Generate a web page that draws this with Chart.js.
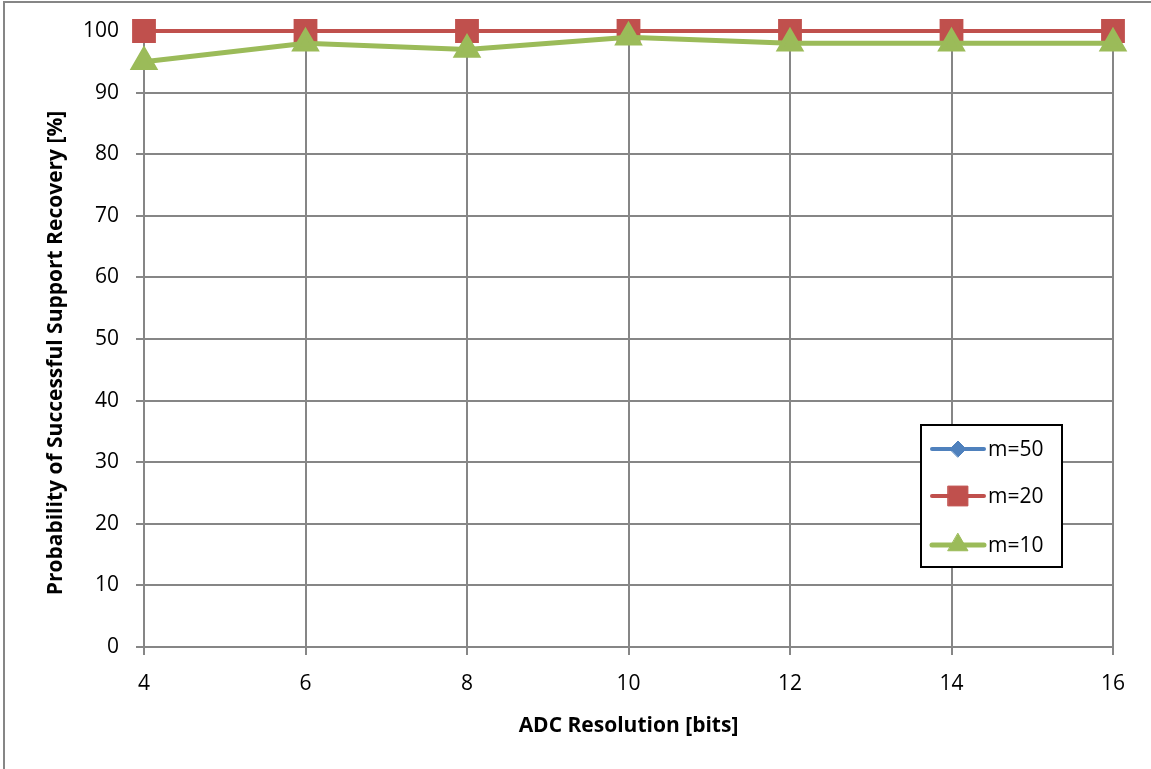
<!DOCTYPE html>
<html>
<head>
<meta charset="utf-8">
<script src="https://cdn.jsdelivr.net/npm/chart.js@4/dist/chart.umd.min.js"></script>
<style>
  html, body { margin: 0; padding: 0; background: #fff; }
  #wrap { width: 1151px; height: 769px; position: relative; }
</style>
</head>
<body>
<div id="wrap"><canvas id="chart" width="1151" height="769"></canvas></div>
<script>
// ADC resolution in bits (x axis)
const bits = [4, 6, 8, 10, 12, 14, 16];
// probability of successful support recovery, per measurement count
const m50 = [100, 100, 100, 100, 100, 100, 100];
const m20 = [100, 100, 100, 100, 100, 100, 100];
const m10 = [95, 98, 97, 99, 98, 98, 98];
const seriesLabels = ['m=50', 'm=20', 'm=10'];
const yTicks = [0, 10, 20, 30, 40, 50, 60, 70, 80, 90, 100];
const yTitle = 'Probability of Successful Support Recovery [%]';

const FONT = "'Open Sans', 'Noto Sans', sans-serif";
const GRID = '#868686';

function toPoints(values) {
    return bits.map((b, i) => ({ x: b, y: values[i] }));
}

// frame around the whole chart (only left & top are visible in the picture)
// plus the y axis title, which sits a bit below the plot centre
const framePlugin = {
    id: 'frame',
    beforeDraw(chart) {
        const ctx = chart.ctx;
        ctx.save();
        ctx.strokeStyle = GRID;
        ctx.lineWidth = 2;
        ctx.beginPath();
        ctx.moveTo(4, 769);
        ctx.lineTo(4, 2);
        ctx.lineTo(1151, 2);
        ctx.stroke();

        ctx.translate(56, 353);
        ctx.rotate(-Math.PI / 2);
        ctx.fillStyle = '#000';
        ctx.font = 'bold 21px ' + FONT;
        ctx.textAlign = 'center';
        ctx.textBaseline = 'middle';
        ctx.fillText(yTitle, 0, 0);
        ctx.restore();
    }
};

// boxed legend sitting inside the plot area
const boxLegend = {
    id: 'boxLegend',
    afterDraw(chart) {
        const ctx = chart.ctx;
        const x0 = 921, y0 = 425, w = 141, h = 142;
        ctx.save();
        ctx.fillStyle = '#fff';
        ctx.fillRect(x0, y0, w, h);
        ctx.strokeStyle = '#000';
        ctx.lineWidth = 2;
        ctx.strokeRect(x0, y0, w, h);
        const rows = [449, 496, 545];
        chart.data.datasets.forEach((ds, i) => {
            const y = rows[i];
            ctx.strokeStyle = ds.borderColor;
            ctx.lineWidth = ds.borderWidth;
            ctx.lineCap = 'round';
            ctx.beginPath();
            ctx.moveTo(932, y);
            ctx.lineTo(984, y);
            ctx.stroke();
            ctx.fillStyle = ds.backgroundColor;
            ctx.strokeStyle = ds.backgroundColor;
            ctx.lineWidth = 1;
            Chart.helpers.drawPoint(ctx, {
                pointStyle: ds.pointStyle,
                radius: ds.pointRadius,
                borderWidth: 1,
                rotation: 0
            }, 958, y);
            ctx.fillStyle = '#000';
            ctx.font = '21px ' + FONT;
            ctx.textBaseline = 'middle';
            ctx.textAlign = 'left';
            ctx.fillText(ds.label, 988, y + 1);
        });
        ctx.restore();
    }
};

new Chart(document.getElementById('chart'), {
    type: 'line',
    data: {
        datasets: [
            {
                label: seriesLabels[0], data: toPoints(m50), order: 3, clip: false,
                borderColor: '#4F81BD', backgroundColor: '#4F81BD', borderWidth: 4,
                pointStyle: 'rectRot', pointRadius: 8, pointHoverRadius: 8
            },
            {
                label: seriesLabels[1], data: toPoints(m20), order: 2, clip: false,
                borderColor: '#C0504D', backgroundColor: '#C0504D', borderWidth: 4,
                pointStyle: 'rect', pointRadius: 14, pointHoverRadius: 14
            },
            {
                label: seriesLabels[2], data: toPoints(m10), order: 1, clip: false,
                borderColor: '#9BBB59', backgroundColor: '#9BBB59', borderWidth: 5,
                pointStyle: 'triangle', pointRadius: 11.5, pointHoverRadius: 11.5
            }
        ]
    },
    options: {
        responsive: false,
        animation: false,
        layout: { padding: { left: 38, top: 31, right: 38, bottom: 30 } },
        plugins: {
            legend: { display: false },
            tooltip: { enabled: false }
        },
        scales: {
            x: {
                type: 'linear',
                min: 4, max: 16,
                afterBuildTicks(scale) {
                    scale.ticks = bits.map(v => ({ value: v }));
                },
                afterFit(scale) { scale.height = 92; },
                grid: { color: GRID, lineWidth: 2, tickLength: 8, drawTicks: true },
                border: { color: GRID, width: 2 },
                ticks: {
                    color: '#000', padding: 16,
                    font: { family: FONT, size: 21 }
                },
                title: {
                    display: true, text: 'ADC Resolution [bits]', color: '#000',
                    font: { family: FONT, size: 21, weight: 'bold' },
                    padding: { top: 4, bottom: 0 }
                }
            },
            y: {
                min: 0, max: 100,
                afterBuildTicks(scale) {
                    scale.ticks = yTicks.map(v => ({ value: v }));
                },
                afterFit(scale) { scale.width = 106; },
                grid: { color: GRID, lineWidth: 2, tickLength: 8 },
                border: { color: GRID, width: 2 },
                ticks: {
                    color: '#000', padding: 17,
                    font: { family: FONT, size: 21 }
                },
                title: { display: false }
            }
        }
    },
    plugins: [framePlugin, boxLegend]
});
</script>
</body>
</html>
